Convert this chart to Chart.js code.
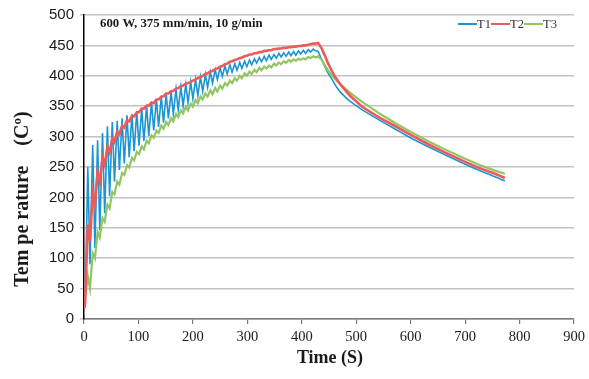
<!DOCTYPE html>
<html>
<head>
<meta charset="utf-8">
<script src="https://cdn.jsdelivr.net/npm/chart.js@4.4.0/dist/chart.umd.min.js"></script>
<style>
  html, body { margin: 0; padding: 0; background: #fff; }
  #wrap { width: 589px; height: 379px; }
</style>
</head>
<body>
<div id="wrap"><canvas id="tempChart" width="589" height="379"></canvas></div>
<script>
"use strict";

// heating phase, sampled at each peak / trough of the zigzag (s)
var heatTime = [0, 2, 7, 11, 16, 20, 25, 29, 34, 38, 43, 47, 52, 56, 61, 65, 70, 74, 79, 83,
    88, 92, 97, 101, 106, 110, 115, 119, 124, 128, 133, 137, 142, 146, 151, 155, 160, 164, 169, 173,
    178, 182, 187, 191, 196, 200, 205, 209, 214, 218, 223, 227, 232, 236, 241, 245, 250, 254, 259, 263,
    268, 272, 277, 281, 286, 290, 295, 299, 304, 308, 313, 317, 322, 326, 331, 335, 340, 344, 349, 353,
    358, 362, 367, 371, 376, 380, 385, 389, 394, 398, 403, 407, 412, 416, 421, 425, 430];

var t1Heat = [20, 20, 250, 90, 286, 117, 294, 146, 306, 174, 317, 202, 324, 226, 326, 245, 330, 256, 335, 266,
    337, 276, 341, 285, 346, 293, 351, 301, 356, 310, 361, 316, 366, 323, 370, 330, 374, 337, 378, 344,
    382, 350, 386, 356, 390, 362, 394, 368, 398, 374, 402, 381, 406, 388, 410, 394, 413, 399, 416, 403,
    418, 406, 420, 409, 422, 412, 424, 415, 426, 418, 428, 421, 430, 423, 432, 425, 434, 427, 435, 429,
    437, 431, 438, 432, 439, 433, 440, 434, 441, 436, 442, 437, 443, 439, 444, 441, 440];

var t2Heat = [18, 25, 155, 128, 208, 188, 242, 226, 266, 254, 283, 274, 297, 291, 308, 304, 318, 315, 327, 325,
    334, 333, 340, 340, 346, 346, 351, 351, 356, 355, 361, 361, 366, 366, 371, 371, 375, 375, 379, 380,
    383, 384, 387, 388, 390, 392, 394, 396, 398, 400, 403, 404, 407, 408, 411, 412, 415, 416, 419, 420,
    423, 424, 426, 427, 429, 430, 432, 433, 435, 435, 437, 437, 439, 439, 441, 441, 442, 442, 444, 444,
    445, 445, 446, 446, 447, 447, 448, 448, 449, 449, 450, 450, 451, 452, 453, 453, 454];

var t3Heat = [22, 35, 70, 50, 108, 100, 143, 134, 166, 160, 188, 182, 209, 205, 226, 221, 240, 237, 253, 249,
    265, 261, 275, 271, 284, 279, 293, 289, 302, 298, 310, 306, 318, 313, 324, 319, 330, 325, 337, 332,
    343, 338, 349, 343, 354, 349, 360, 355, 366, 361, 371, 366, 376, 370, 380, 374, 384, 379, 388, 384,
    392, 388, 396, 392, 400, 396, 404, 400, 407, 403, 410, 406, 413, 409, 415, 412, 417, 414, 420, 417,
    422, 419, 424, 421, 426, 423, 427, 425, 428, 426, 429, 427, 431, 429, 432, 430, 432];

// cooling phase (s)
var coolTime = [436, 442, 448, 455, 462, 470, 480, 490, 511, 541, 572, 602, 633, 663, 694, 724, 755, 773];
var t1Cool   = [428, 416, 405, 395, 384, 374, 365, 357, 344, 328, 312, 297, 283, 270, 257, 245, 234, 227];
var t2Cool   = [446, 434, 421, 408, 397, 387, 376, 366, 349, 332, 317, 302, 287, 274, 261, 249, 239, 232];
var t3Cool   = [427, 418, 409, 401, 394, 387, 379, 371, 357, 339, 322, 307, 292, 279, 266, 254, 244, 239];

var seriesNames  = ["T1", "T2", "T3"];
var seriesColors = ["#1b95d2", "#ee5a5c", "#92c662"];

var xTicks = [0, 100, 200, 300, 400, 500, 600, 700, 800, 900];
var yTicks = [0, 50, 100, 150, 200, 250, 300, 350, 400, 450, 500];

function toPoints(times, values, times2, values2)
{
    var pts = [];
    for (var i = 0; i < times.length; i++)
    {
        pts.push({x: times[i], y: values[i]});
    }
    for (var j = 0; j < times2.length; j++)
    {
        pts.push({x: times2[j], y: values2[j]});
    }
    return pts;
}

var overlayText = {
    id: "overlayText",
    afterDraw: function (chart)
    {
        var ctx = chart.ctx;
        ctx.save();
        ctx.fillStyle = "#1a1a1a";

        // condition label
        ctx.font = "bold 12.8px 'Liberation Serif', 'Times New Roman', serif";
        ctx.textAlign = "left";
        ctx.textBaseline = "alphabetic";
        ctx.fillText("600 W, 375 mm/min, 10 g/min", 100, 27);

        // legend
        var legendX = [458, 491, 524];
        ctx.font = "12.5px 'Liberation Serif', 'Times New Roman', serif";
        chart.data.datasets.forEach(function (ds, i)
        {
            ctx.strokeStyle = ds.borderColor;
            ctx.lineWidth = 2;
            ctx.beginPath();
            ctx.moveTo(legendX[i], 24);
            ctx.lineTo(legendX[i] + 19, 24);
            ctx.stroke();
            ctx.fillStyle = "#333";
            ctx.fillText(ds.label, legendX[i] + 19, 28);
        });

        // axis titles
        ctx.fillStyle = "#1a1a1a";
        ctx.font = "bold 18px 'Liberation Serif', 'Times New Roman', serif";
        ctx.textAlign = "center";
        ctx.textBaseline = "middle";
        ctx.fillText("Time (S)", 330, 358);

        ctx.font = "bold 20px 'Liberation Serif', 'Times New Roman', serif";
        ctx.translate(23, 199);
        ctx.rotate(-Math.PI / 2);
        ctx.fillText("Tem pe rature    (C\u00ba)", 0, 0);
        ctx.restore();
    }
};

function makeDataset(i, heat, cool, width, order)
{
    return {
        label:       seriesNames[i],
        data:        toPoints(heatTime, heat, coolTime, cool),
        borderColor: seriesColors[i],
        borderWidth: width,
        pointRadius: 0,
        tension:     0,
        fill:        false,
        order:       order
    };
}

new Chart(document.getElementById("tempChart"), {
    type:    "line",
    data:    {
        datasets: [
            makeDataset(0, t1Heat, t1Cool, 1.6, 2),
            makeDataset(1, t2Heat, t2Cool, 2.6, 0),
            makeDataset(2, t3Heat, t3Cool, 2.2, 1)
        ]
    },
    options: {
        responsive:          false,
        animation:           false,
        maintainAspectRatio: false,
        layout:              {
            padding: {left: 0, right: 15, top: 13, bottom: 0}
        },
        plugins:             {
            legend:  {display: false},
            tooltip: {enabled: false}
        },
        scales:              {
            x: {
                type:        "linear",
                min:         0,
                max:         900,
                afterBuildTicks: function (scale)
                {
                    scale.ticks = xTicks.map(function (v) { return {value: v}; });
                },
                afterFit:    function (scale)
                {
                    scale.height = 60;
                },
                grid:        {
                    drawOnChartArea: false,
                    drawTicks:       true,
                    tickLength:      5,
                    color:           "#7a7a7a",
                    lineWidth:       1.2
                },
                border:      {color: "#7a7a7a", width: 1.5},
                ticks:       {
                    padding:     4,
                    color:       "#1a1a1a",
                    maxRotation: 0,
                    font:        {family: "'Liberation Serif', 'Times New Roman', serif", size: 14.5}
                }
            },
            y: {
                min:         0,
                max:         500,
                afterBuildTicks: function (scale)
                {
                    scale.ticks = yTicks.map(function (v) { return {value: v}; });
                },
                afterFit:    function (scale)
                {
                    scale.width = 84;
                },
                grid:        {
                    color:      "#c2c2c2",
                    lineWidth:  1.5,
                    tickLength: 4
                },
                border:      {color: "#000", width: 1.5},
                ticks:       {
                    padding: 6,
                    color:   "#1a1a1a",
                    font:    {family: "'Liberation Sans', Arial, sans-serif", size: 15}
                }
            }
        }
    },
    plugins: [overlayText]
});
</script>
</body>
</html>
